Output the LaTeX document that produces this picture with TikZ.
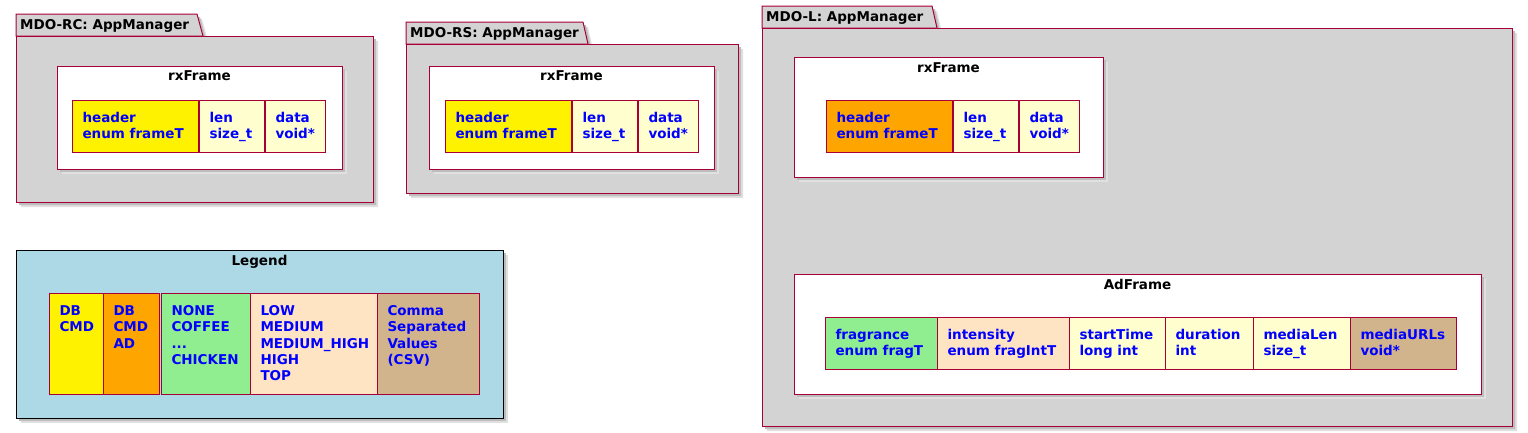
\documentclass[tikz,border=0pt]{standalone}
\usepackage{fontspec}
\setmainfont{DejaVu Sans}
\definecolor{bordc}{HTML}{A80036}
\definecolor{pkgfill}{HTML}{D3D3D3}
\definecolor{fieldfill}{HTML}{FEFECE}
\definecolor{txtblue}{HTML}{0000FF}
\definecolor{lgreen}{HTML}{90EE90}
\definecolor{bisq}{HTML}{FFE4C4}
\definecolor{tanc}{HTML}{D2B48C}
\definecolor{orng}{HTML}{FFA500}
\definecolor{lblue}{HTML}{ADD8E6}
\newcommand{\fsz}{\fontsize{13.5}{16.3}\selectfont}
\newcommand{\fb}[3]{\parbox[c][#2pt][t]{#1pt}{\raggedright\leftskip=10pt\relax\rule{0pt}{22pt}#3}}
\tikzset{
  fld/.style={draw=bordc, line width=1pt, inner sep=0pt, anchor=north west, text=txtblue, font=\fsz\bfseries},
  frm/.style={draw=bordc, fill=white, line width=1pt, inner sep=0pt, anchor=north west},
  ttl/.style={anchor=base, inner sep=0pt, font=\fsz\bfseries},
  pttl/.style={anchor=base west, inner sep=0pt, font=\fsz\bfseries},
  shd/.style={fill=black!26, draw=none},
  shdb/.style={fill=black!12, draw=none},
  pkg/.style={draw=bordc, fill=pkgfill, line width=1pt},
}
\begin{document}
\begin{tikzpicture}[x=1pt,y=-1pt]
\useasboundingbox (0,0) rectangle (1528,432);
% ---------- package MDO-RC ----------
\fill[shdb] (21,19) -- (202,19) -- (208,41) -- (378,41) -- (378,207) -- (21,207) -- cycle;
\fill[shd] (19,17) -- (200,17) -- (206,39) -- (376,39) -- (376,205) -- (19,205) -- cycle;
\filldraw[pkg] (16,36) -- (16,14) -- (197,14) -- (203,36) -- cycle;
\filldraw[pkg] (16,36) rectangle (373,202);
\node[pttl] (rcT) at (20,29.5) {MDO-RC: AppManager};
\fill[shdb] (62,71) rectangle (347,174);
\fill[shd] (60,69) rectangle (345,172);
\node[frm, minimum width=285, minimum height=103] (rcF) at (57,66) {};
\node[ttl] (rcFt) at (199.5,80) {rxFrame};
\node[fld, fill=yellow] (rcH) at (72,100) {\fb{126}{52}{header\\enum frameT}};
\node[fld, fill=fieldfill] (rcL) at (199,100) {\fb{65}{52}{len\\size\_t}};
\node[fld, fill=fieldfill] (rcD) at (265,100) {\fb{60}{52}{data\\void*}};
% ---------- package MDO-RS ----------
\fill[shdb] (411,27) -- (588,27) -- (593,49) -- (743,49) -- (743,198) -- (411,198) -- cycle;
\fill[shd] (409,25) -- (586,25) -- (591,47) -- (741,47) -- (741,196) -- (409,196) -- cycle;
\filldraw[pkg] (406,44) -- (406,22) -- (583,22) -- (588,44) -- cycle;
\filldraw[pkg] (406,44) rectangle (738,193);
\node[pttl] (rsT) at (410,37) {MDO-RS: AppManager};
\fill[shdb] (434,71) rectangle (719,174);
\fill[shd] (432,69) rectangle (717,172);
\node[frm, minimum width=285, minimum height=103] (rsF) at (429,66) {};
\node[ttl] (rsFt) at (571.5,80) {rxFrame};
\node[fld, fill=yellow] (rsH) at (445,100) {\fb{126}{52}{header\\enum frameT}};
\node[fld, fill=fieldfill] (rsL) at (572,100) {\fb{65}{52}{len\\size\_t}};
\node[fld, fill=fieldfill] (rsD) at (638,100) {\fb{60}{52}{data\\void*}};
% ---------- package MDO-L ----------
\fill[shdb] (767,11) -- (937,11) -- (942,33) -- (1517,33) -- (1517,431) -- (767,431) -- cycle;
\fill[shd] (765,9) -- (935,9) -- (940,31) -- (1515,31) -- (1515,429) -- (765,429) -- cycle;
\filldraw[pkg] (762,28) -- (762,6) -- (932,6) -- (937,28) -- cycle;
\filldraw[pkg] (762,28) rectangle (1512,426);
\node[pttl] (lT) at (766,21) {MDO-L: AppManager};
\fill[shdb] (799,62) rectangle (1108,182);
\fill[shd] (797,60) rectangle (1106,180);
\node[frm, minimum width=309, minimum height=120] (lF) at (794,57) {};
\node[ttl] (lFt) at (948.5,72) {rxFrame};
\node[fld, fill=orng] (lH) at (826,100) {\fb{126}{52}{header\\enum frameT}};
\node[fld, fill=fieldfill] (lL) at (953,100) {\fb{65}{52}{len\\size\_t}};
\node[fld, fill=fieldfill] (lD) at (1019,100) {\fb{60}{52}{data\\void*}};
\fill[shdb] (799,279) rectangle (1486,399);
\fill[shd] (797,277) rectangle (1484,397);
\node[frm, minimum width=687, minimum height=120] (aF) at (794,274) {};
\node[ttl] (aFt) at (1137.5,289) {AdFrame};
\node[fld, fill=lgreen] (aFr) at (825,317) {\fb{112}{52}{fragrance\\enum fragT}};
\node[fld, fill=bisq] (aIn) at (937,317) {\fb{132}{52}{intensity\\enum fragIntT}};
\node[fld, fill=fieldfill] (aSt) at (1069,317) {\fb{96}{52}{startTime\\long int}};
\node[fld, fill=fieldfill] (aDu) at (1165,317) {\fb{88}{52}{duration\\int}};
\node[fld, fill=fieldfill] (aMl) at (1253,317) {\fb{97}{52}{mediaLen\\size\_t}};
\node[fld, fill=tanc] (aMu) at (1350,317) {\fb{106}{52}{mediaURLs\\void*}};
% ---------- Legend ----------
\fill[shdb] (21,255) rectangle (508,423);
\fill[shd] (19,253) rectangle (506,421);
\node[frm, draw=black, fill=lblue, minimum width=487, minimum height=168] (lg) at (16,250) {};
\node[ttl] (lgT) at (259.5,265) {Legend};
\node[fld, fill=yellow] (g1) at (49,293) {\fb{54}{101}{DB\\CMD}};
\node[fld, fill=orng] (g2) at (103,293) {\fb{56}{101}{DB\\CMD\\AD}};
\node[fld, fill=lgreen] (g3) at (161,293) {\fb{89}{101}{NONE\\COFFEE\\...\\CHICKEN}};
\node[fld, fill=bisq] (g4) at (250,293) {\fb{127}{101}{LOW\\MEDIUM\\MEDIUM\_HIGH\\HIGH\\TOP}};
\node[fld, fill=tanc] (g5) at (377,293) {\fb{102}{101}{Comma\\Separated\\Values\\(CSV)}};
\end{tikzpicture}
\end{document}
